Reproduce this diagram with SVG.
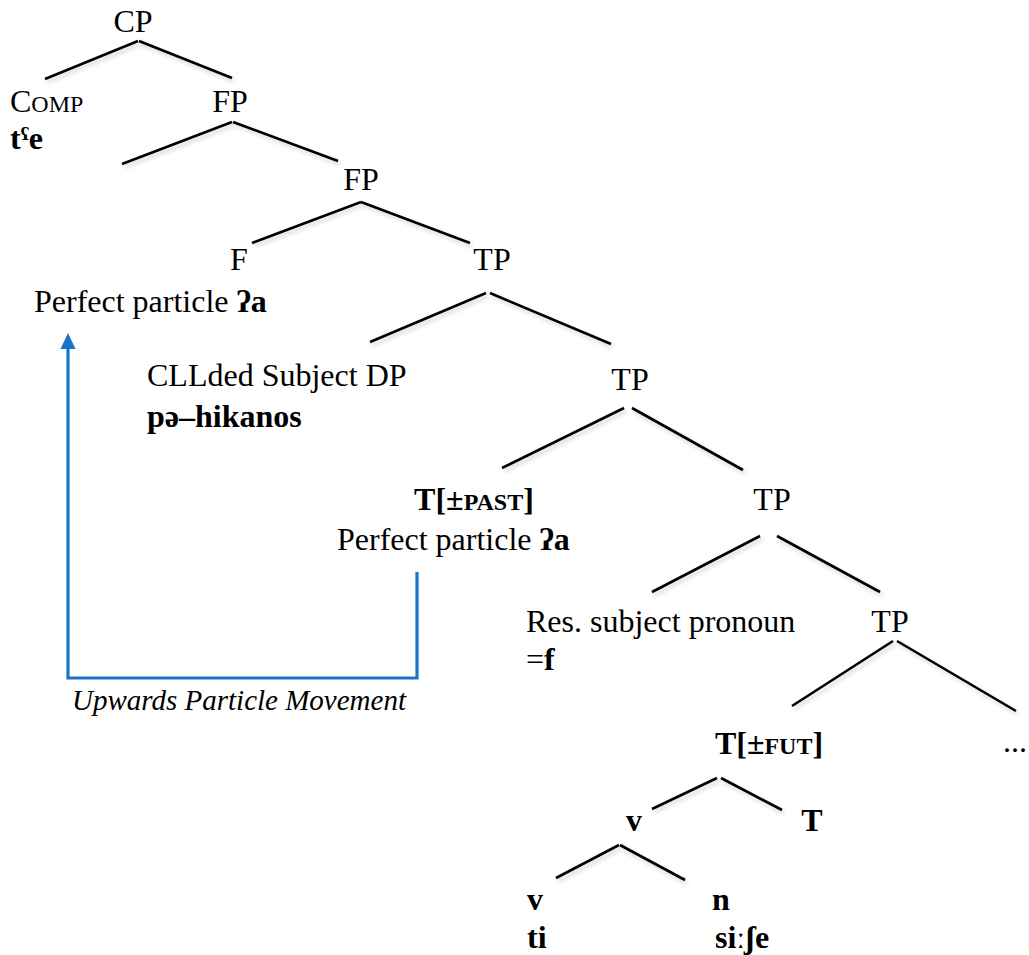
<svg xmlns="http://www.w3.org/2000/svg" width="1029" height="955" viewBox="0 0 1029 955">
<defs>
<filter id="sh" x="-10%" y="-10%" width="130%" height="140%">
<feDropShadow dx="2" dy="3" stdDeviation="2" flood-color="#000" flood-opacity="0.18"/>
</filter>
</defs>
<style>
text{font-family:"Liberation Serif","Times New Roman",serif;font-size:32px;fill:#000}
.b{font-weight:bold}
.sc{font-size:24px}
.it{font-style:italic;font-size:29px}
.m{text-anchor:middle}
.tree line{stroke:#000;stroke-width:2.6;stroke-linecap:butt}
.mv{fill:none;stroke:#1874c6;stroke-width:3.2}
</style>
<rect width="1029" height="955" fill="#fff"/>
<g id="connectors">
<g class="tree" filter="url(#sh)">
<line x1="138" y1="41" x2="45" y2="79"/>
<line x1="139" y1="41" x2="232" y2="78"/>
<line x1="232" y1="122" x2="122" y2="164"/>
<line x1="233" y1="122" x2="338" y2="161"/>
<line x1="361" y1="202" x2="252" y2="243"/>
<line x1="361" y1="202" x2="470" y2="243"/>
<line x1="486" y1="293" x2="370" y2="342"/>
<line x1="490" y1="293" x2="611" y2="344"/>
<line x1="624" y1="408" x2="502" y2="468"/>
<line x1="632" y1="408" x2="743" y2="470"/>
<line x1="760" y1="536" x2="652" y2="592"/>
<line x1="777" y1="536" x2="880" y2="592"/>
<line x1="893" y1="641" x2="792" y2="706"/>
<line x1="897" y1="641" x2="1016" y2="711"/>
<line x1="717" y1="778" x2="652" y2="809"/>
<line x1="721" y1="778" x2="782" y2="810"/>
<line x1="619" y1="845" x2="556" y2="878"/>
<line x1="620" y1="845" x2="685" y2="880"/>
</g>
<path id="movement" class="mv" d="M417,572 V678 H68 V346"/>
<polygon points="68,333 60.5,349 75.5,349" fill="#1874c6"/>
</g>
<g id="n-cp"><text class="m" x="133" y="32">CP</text></g>
<g id="n-comp"><text x="10" y="112">C<tspan class="sc">OMP</tspan></text><text class="b" x="10" y="149">tˤe</text></g>
<g id="n-fp1"><text class="m" x="230" y="112">FP</text></g>
<g id="n-fp2"><text class="m" x="361" y="190">FP</text></g>
<g id="n-f"><text class="m" x="239" y="270">F</text><text x="34" y="312">Perfect particle <tspan class="b">ʔa</tspan></text></g>
<g id="n-tp1"><text class="m" x="492" y="270">TP</text></g>
<g id="n-dp"><text x="147" y="386">CLLded Subject DP</text><text class="b" x="147" y="427">pə–hikanos</text></g>
<g id="n-tp2"><text class="m" x="630" y="390">TP</text></g>
<g id="n-tpast"><text class="m b" x="474" y="510">T[±<tspan class="sc">PAST</tspan>]</text><text x="337" y="550">Perfect particle <tspan class="b">ʔa</tspan></text></g>
<g id="n-tp3"><text class="m" x="772" y="510">TP</text></g>
<g id="n-res"><text x="526" y="632">Res. subject pronoun</text><text x="526" y="670">=<tspan class="b">f</tspan></text></g>
<g id="n-tp4"><text class="m" x="890" y="632">TP</text></g>
<g id="label"><text class="it" x="72" y="710">Upwards Particle Movement</text></g>
<g id="n-tfut"><text class="m b" x="769" y="754">T[±<tspan class="sc">FUT</tspan>]</text></g>
<g id="n-dots"><text x="1003" y="752">...</text></g>
<g id="n-v1"><text class="m b" x="634" y="831">v</text></g>
<g id="n-t"><text class="m b" x="812" y="831">T</text></g>
<g id="n-v2"><text class="b" x="527" y="910">v</text><text class="b" x="527" y="948">ti</text></g>
<g id="n-n"><text class="b" x="712" y="910">n</text><text class="b" x="715" y="948">siːʃe</text></g>
</svg>
